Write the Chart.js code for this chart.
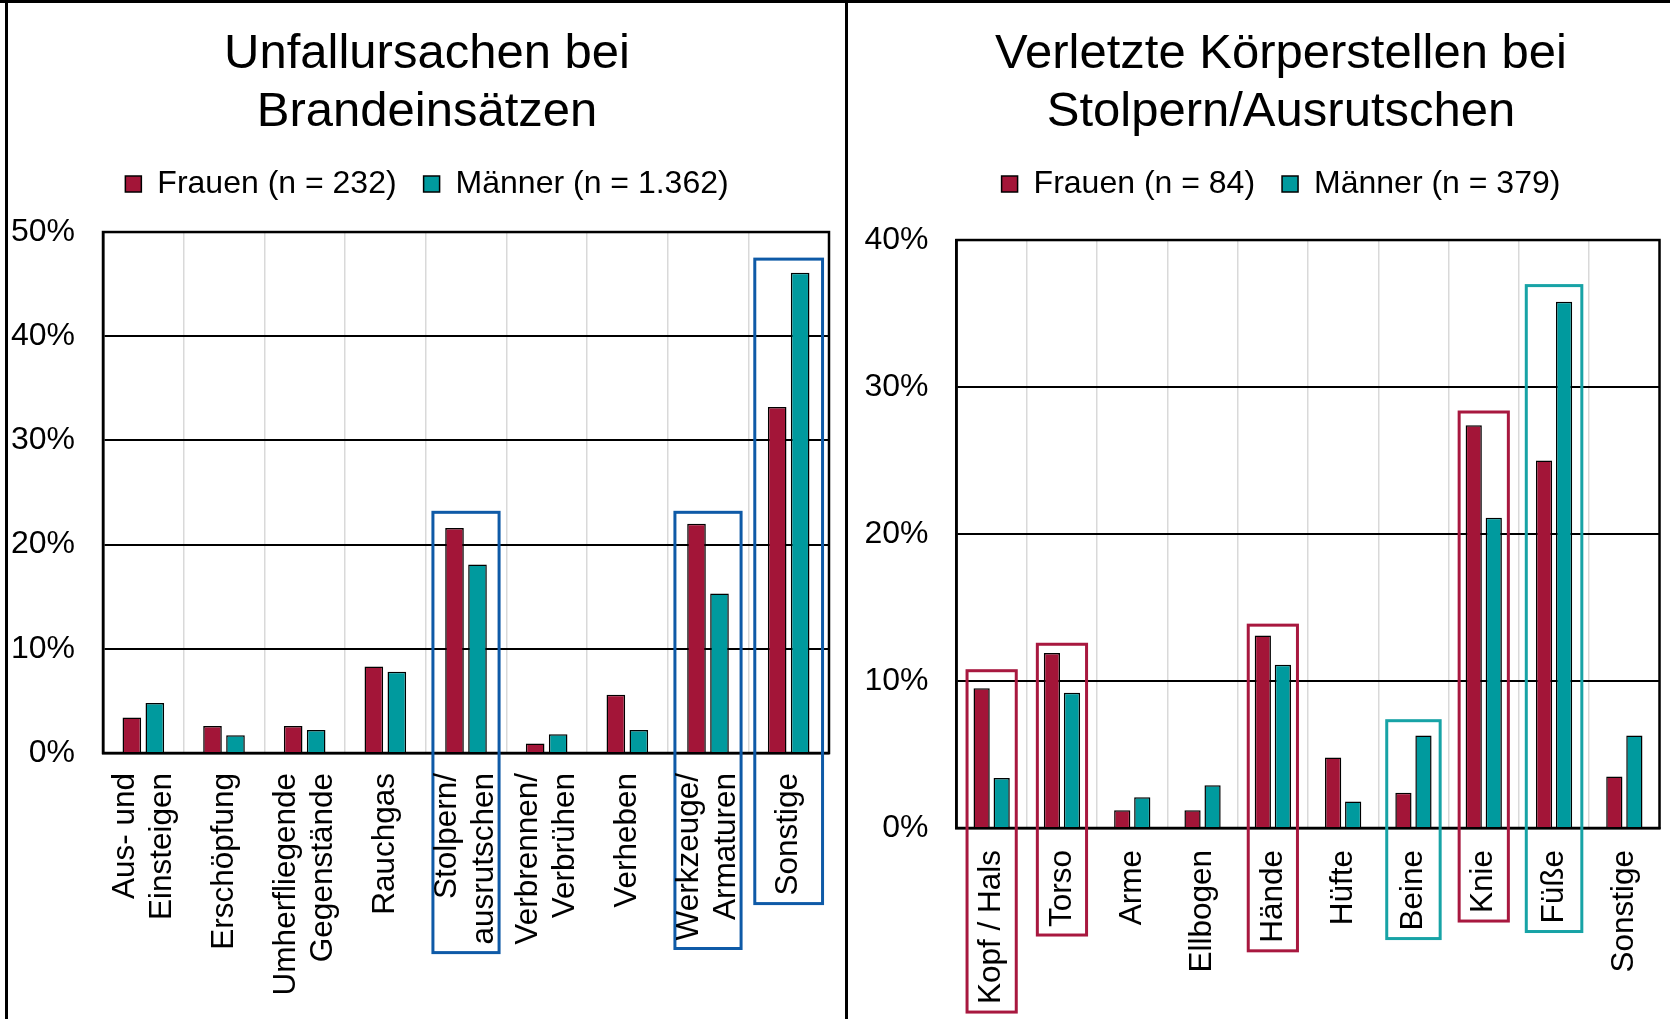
<!DOCTYPE html>
<html>
<head>
<meta charset="utf-8">
<script src="https://cdn.jsdelivr.net/npm/chart.js@4.4.1/dist/chart.umd.min.js"></script>
<style>
html,body{margin:0;padding:0;background:#fff;width:1670px;height:1019px;overflow:hidden;position:relative}
.wrap{position:absolute;top:0;height:1019px}
.ln{position:absolute;background:#000}
</style>
</head>
<body>
<div class="wrap" style="left:8px;width:838px"><canvas id="cl" width="838" height="1019"></canvas></div>
<div class="wrap" style="left:848px;width:866px"><canvas id="cr" width="866" height="1019"></canvas></div>
<div class="ln" style="left:0;top:0;width:1670px;height:3px"></div>
<div class="ln" style="left:5px;top:0;width:3px;height:1019px"></div>
<div class="ln" style="left:845px;top:0;width:3px;height:1019px"></div>
<script>
// ---------- data ----------
const titleLeft = ['Unfallursachen bei', 'Brandeinsätzen'];
const seriesNamesLeft = ['Frauen (n = 232)', 'Männer (n = 1.362)'];
const categoriesLeft = [
  ['Aus- und', 'Einsteigen'],
  'Erschöpfung',
  ['Umherfliegende', 'Gegenstände'],
  'Rauchgas',
  ['Stolpern/', 'ausrutschen'],
  ['Verbrennen/', 'Verbrühen'],
  'Verheben',
  ['Werkzeuge/', 'Armaturen'],
  'Sonstige'
];
const frauenLeft  = [3.4, 2.6, 2.6, 8.3, 21.6, 0.9, 5.6, 22.0, 33.2];
const maennerLeft = [4.8, 1.7, 2.2, 7.8, 18.1, 1.8, 2.2, 15.3, 46.1];
const yTicksLeft = [0, 10, 20, 30, 40, 50];

const titleRight = ['Verletzte Körperstellen bei', 'Stolpern/Ausrutschen'];
const seriesNamesRight = ['Frauen (n = 84)', 'Männer (n = 379)'];
const categoriesRight = ['Kopf / Hals', 'Torso', 'Arme', 'Ellbogen', 'Hände', 'Hüfte', 'Beine', 'Knie', 'Füße', 'Sonstige'];
const frauenRight  = [9.5, 11.9, 1.2, 1.2, 13.1, 4.8, 2.4, 27.4, 25.0, 3.5];
const maennerRight = [3.4, 9.2, 2.1, 2.9, 11.1, 1.8, 6.3, 21.1, 35.8, 6.3];
const yTicksRight = [0, 10, 20, 30, 40];

// highlighted categories (category index, top of frame in %)
const highlightCatsLeft  = [4, 7, 8];
const highlightTopsLeft  = [23.1, 23.1, 47.4];
const highlightCatsRight = [0, 1, 4, 6, 7, 8];
const highlightTopsRight = [10.7, 12.5, 13.8, 7.3, 28.3, 36.9];

// ---------- styles ----------
const FONT = "'Liberation Sans', Arial, Helvetica, sans-serif";
const CRIMSON = '#A31538';
const TEAL = '#009A9E';
const BOX_BLUE = '#0E5AA7';
const BOX_CRIMSON = '#A8183F';
const BOX_TEAL = '#17A3A6';
const LABEL_SIZE = 31.5;

const highlightStyleLeft  = [[BOX_BLUE, 0.82], [BOX_BLUE, 0.82], [BOX_BLUE, 0.84]];
const highlightStyleRight = [[BOX_CRIMSON, 0.70], [BOX_CRIMSON, 0.70], [BOX_CRIMSON, 0.70], [BOX_TEAL, 0.76], [BOX_CRIMSON, 0.70], [BOX_TEAL, 0.79]];

// ---------- plugins ----------
function legendGapPlugin(extra) {
  return {
    id: 'legendGap',
    beforeInit(chart) {
      const lg = chart.legend;
      const orig = lg.fit;
      lg.fit = function () { orig.call(this); this.height += extra; };
    }
  };
}

const framePlugin = {
  id: 'frame',
  beforeDatasetsDraw(chart) {
    const {ctx, chartArea: a} = chart;
    ctx.save();
    ctx.strokeStyle = '#000';
    ctx.lineWidth = 2.5;
    ctx.strokeRect(a.left, a.top, a.right - a.left, a.bottom - a.top);
    ctx.restore();
  }
};

function labelLines(l) { return Array.isArray(l) ? l : [l]; }

function catLabelPlugin(gap, lh) {
  return {
    id: 'catLabels',
    afterDraw(chart) {
      const ctx = chart.ctx, x = chart.scales.x;
      ctx.save();
      ctx.font = LABEL_SIZE + 'px ' + FONT;
      ctx.fillStyle = '#000';
      ctx.textAlign = 'right';
      ctx.textBaseline = 'middle';
      chart.data.labels.forEach((lab, i) => {
        const lines = labelLines(lab);
        const cx = x.getPixelForValue(i);
        ctx.save();
        ctx.translate(cx, x.top + gap);
        ctx.rotate(-Math.PI / 2);
        lines.forEach((t, k) => ctx.fillText(t, 0, (k - (lines.length - 1) / 2) * lh));
        ctx.restore();
      });
      ctx.restore();
    }
  };
}

function highlightPlugin(cats, tops, styles, gap) {
  return {
    id: 'highlight',
    afterDatasetsDraw(chart) {
      const ctx = chart.ctx, x = chart.scales.x, y = chart.scales.y;
      const catW = x.width / chart.data.labels.length;
      ctx.save();
      ctx.font = LABEL_SIZE + 'px ' + FONT;
      ctx.lineWidth = 3;
      cats.forEach((i, k) => {
        const lines = labelLines(chart.data.labels[i]);
        const tw = Math.max(...lines.map(t => ctx.measureText(t).width));
        const cx = x.getPixelForValue(i);
        const top = y.getPixelForValue(tops[k]);
        const bottom = x.top + gap + tw + 8;
        const half = styles[k][1] * catW / 2;
        ctx.strokeStyle = styles[k][0];
        ctx.strokeRect(cx - half, top, 2 * half, bottom - top);
      });
      ctx.restore();
    }
  };
}

// ---------- chart factory ----------
function makeChart(id, o) {
  return new Chart(document.getElementById(id), {
    type: 'bar',
    data: {
      labels: o.labels,
      datasets: [
        { label: o.names[0], data: o.f, backgroundColor: CRIMSON, borderColor: '#000', borderWidth: 1.5,
          categoryPercentage: 0.57, barPercentage: 0.81 },
        { label: o.names[1], data: o.m, backgroundColor: TEAL, borderColor: '#000', borderWidth: 1.5,
          categoryPercentage: 0.57, barPercentage: 0.81 }
      ]
    },
    options: {
      responsive: false,
      animation: false,
      layout: { padding: { left: 0, right: 0, top: 0, bottom: 0 } },
      plugins: {
        title: {
          display: true, text: o.title, color: '#000',
          font: { family: FONT, size: 49, weight: 'normal', lineHeight: 1.184 },
          padding: { top: 25, bottom: 0 }
        },
        legend: {
          display: true, position: 'top',
          labels: { color: '#000', font: { family: FONT, size: 32 }, boxWidth: 16, boxHeight: 16, padding: 27 }
        },
        tooltip: { enabled: false }
      },
      scales: {
        x: {
          grid: { color: '#d9d9d9', lineWidth: 1.5, drawTicks: false, offset: true },
          border: { color: '#000', width: 2.5 },
          ticks: { display: false },
          afterFit: s => { s.height = o.xHeight; }
        },
        y: {
          min: 0, max: o.yTicks[o.yTicks.length - 1],
          afterBuildTicks: s => { s.ticks = o.yTicks.map(v => ({ value: v })); },
          ticks: { padding: 28, color: '#000', font: { family: FONT, size: 32 }, callback: v => v + '%' },
          grid: { color: '#000', lineWidth: 2, drawTicks: false },
          border: { color: '#000', width: 2.5 },
          afterFit: s => { s.width = o.yWidth; }
        },
        yRightSpace: {
          type: 'linear', position: 'right', display: true,
          grid: { display: false, drawTicks: false },
          border: { display: false },
          ticks: { display: false },
          afterFit: s => { s.width = o.rightSpace; }
        }
      }
    },
    plugins: [legendGapPlugin(o.legendExtra), framePlugin,
              highlightPlugin(o.hCats, o.hTops, o.hStyles, o.labelGap),
              catLabelPlugin(o.labelGap, o.lineH)]
  });
}

makeChart('cl', {
  labels: categoriesLeft, names: seriesNamesLeft, f: frauenLeft, m: maennerLeft, title: titleLeft,
  yTicks: yTicksLeft, yWidth: 95, rightSpace: 17, xHeight: 266, legendExtra: 22,
  labelGap: 20, lineH: 37, hCats: highlightCatsLeft, hTops: highlightTopsLeft, hStyles: highlightStyleLeft
});
makeChart('cr', {
  labels: categoriesRight, names: seriesNamesRight, f: frauenRight, m: maennerRight, title: titleRight,
  yTicks: yTicksRight, yWidth: 108.5, rightSpace: 54.5, xHeight: 191, legendExtra: 30,
  labelGap: 22, lineH: 37, hCats: highlightCatsRight, hTops: highlightTopsRight, hStyles: highlightStyleRight
});
</script>
</body>
</html>
